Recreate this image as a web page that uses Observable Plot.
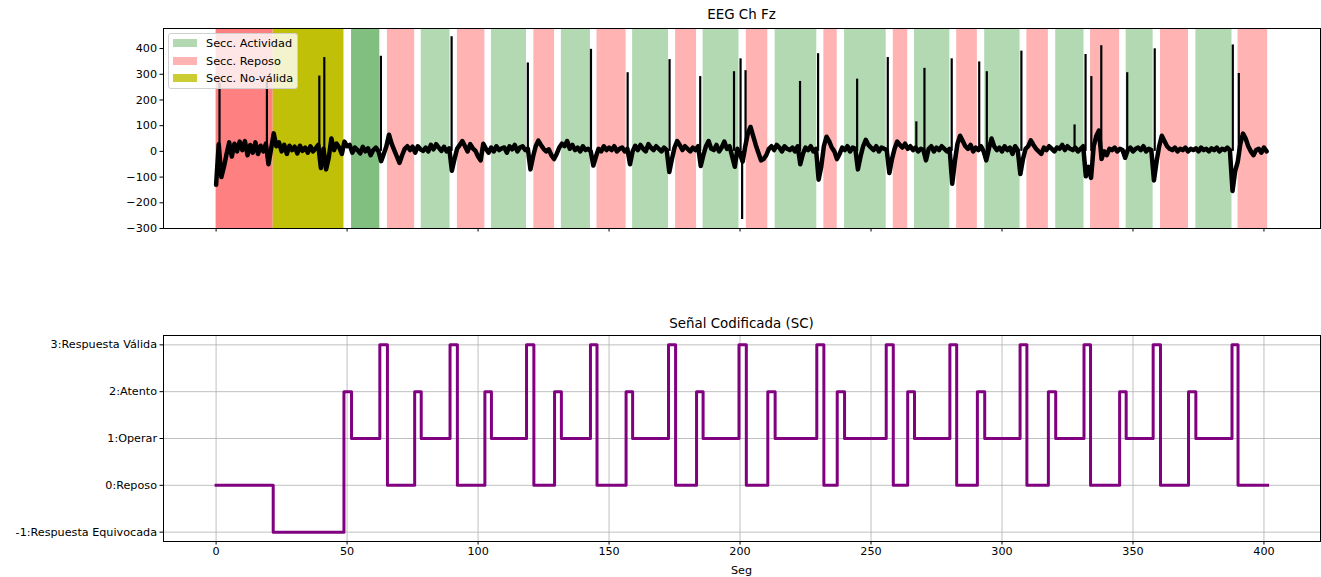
<!DOCTYPE html>
<html>
<head>
<meta charset="utf-8">
<script src="https://cdn.jsdelivr.net/npm/d3@7"></script>
<script src="https://cdn.jsdelivr.net/npm/@observablehq/plot@0.6"></script>
<style>
  body { margin: 0; background: #fff; font-family: "DejaVu Sans", sans-serif; }
  #wrap { position: relative; width: 1321px; height: 577px; overflow: hidden; }
  .abs { position: absolute; }
  .title { font-size: 13.4px; line-height: 16px; text-align: center; color: #000; }
  .legend { position: absolute; left: 168px; top: 33px; width: 128px; height: 54px;
            background: rgba(255,255,255,0.8); border: 1px solid #d0d0d0; border-radius: 3px;
            font-size: 11.3px; color: #000; }
  .legrow { position: absolute; left: 4px; height: 14px; line-height: 14px; white-space: nowrap; }
  .sw { display: inline-block; width: 24px; height: 8px; vertical-align: middle; margin-right: 9px; margin-top: -2px; }
</style>
</head>
<body>
<div id="wrap"></div>
<script>
// ---------------- DATA ----------------
// EEG channel Fz, background trace sampled every 1 s (t = index, seconds)
const eegValues = [
  -130, 28, -100, -60, -10, 35, -20, 30, 0, 38,
  5, 40, -15, 25, -5, 35, -10, 22, 0, 30,
  -50, 10, 70, 20, 35, 0, 25, -10, 22, 5,
  18, -8, 22, 2, 15, -5, 20, 0, 12, 25,
  -65, 10, -70, -25, 50, 5, 30, 15, -10, 38,
  20, 25, -5, 15, 5, -8, 18, 0, 12, -15,
  5, 15, 0, -38, -10, 20, 65, 30, 5, -20,
  -45, -15, 10, 20, 5, 18, -5, 20, 8, 2,
  15, 0, 25, 8, 28, 15, 2, 18, 0, 12,
  -75, -30, 10, 25, 40, 20, 0, 28, 12, 2,
  -20, -35, 30, 10, -5, 15, 0, 20, 5, 12,
  15, -5, 20, 8, 25, 0, 15, 20, 5, 10,
  -70, -20, 20, 42, 25, 10, 0, 8, -15, -30,
  -10, 15, 30, 20, 40, 10, 25, 5, 15, 0,
  20, 5, 10, 0, -55, -20, 10, 0, 20, 5,
  15, 5, 20, 0, 10, 15, 0, 10, -50, 0,
  22, 5, 25, 10, 0, 28, 15, 5, 20, 10,
  0, 15, 5, -80, -30, 15, 40, 25, 5, 20,
  10, 0, 15, 5, 20, -57, -15, 20, 40, 10,
  5, 25, 0, 15, 38, 10, 20, -20, -60, 10,
  -10, -40, 20, 70, 95, 60, 25, -5, -35, -30,
  -15, 10, 20, 5, 25, 15, 0, 20, 10, 5,
  15, 0, 20, -50, -10, 15, 5, 20, 0, 10,
  -110, -60, 20, 57, 40, 15, 0, -30, -10, 15,
  5, 20, 0, 15, 10, -70, -20, 20, 45, 25,
  15, 5, 20, 0, 15, 10, 5, -84, -30, 10,
  38, 25, 15, 30, 10, 20, 5, 15, 0, 10,
  5, -35, 10, 20, 0, 15, 5, 20, 10, 0,
  10, -126, -40, 30, 61, 40, 20, 10, 25, 0,
  15, 5, 20, 0, -35, 10, 50, 20, 5, 15,
  0, 20, 5, 15, -10, 20, 5, -88, -30, 10,
  20, 43, 25, 10, 0, -10, 15, 5, 20, 10,
  0, 15, 10, 25, 5, 20, 10, 5, 15, 0,
  10, 20, -97, -60, -103, 20, 60, 81, -30, 0,
  -15, 10, 5, 15, 0, 10, 5, -25, 5, 15,
  0, 10, 15, 5, 20, 0, 10, 5, -113, -40,
  20, 61, 40, 20, 10, 5, 15, 0, 10, 5,
  15, 0, 10, 5, 12, 0, 15, 5, 10, 0,
  12, 5, 15, 0, 10, 5, 15, 5, -154, -77,
  -40, 30, 69, 50, 20, 0, -15, 5, 10, -5,
  15, 0
];
// Sharp transients (spikes) on the EEG trace
const spikeTimes = [1.3, 19.4, 39.4, 41.3, 62.9, 89.9, 119.0, 143.1, 157.1, 173.1, 184.8, 197.7,
  200.2, 200.8, 202.1, 222.9, 229.8, 244.7, 256.4, 267.3, 270.4, 280.8, 291.3, 294.2, 307.4,
  327.7, 331.9, 334.1, 337.9, 347.8, 358.3, 388.1, 390.4];
const spikePeaks = [265, 268, 293, 365, 370, 446, 344, 397, 306, 357, 291, 310,
  360, -265, 314, 272, 380, 281, 365, 115, 323, 360, 348, 310, 390,
  103, 377, 291, 411, 306, 399, 414, 303];

// Coded signal (SC): change times (s) and level held from that time
const scTimes = [0, 21.8, 48.8, 51.7, 62.5, 65.4, 75.8, 78.3, 89.3, 92.1, 102.6, 105.1, 118.5, 121.3,
  129.2, 131.8, 142.9, 145.4, 156.5, 159.0, 172.7, 175.4, 183.4, 185.9, 199.6, 202.4, 210.6, 213.4,
  229.3, 232.0, 237.1, 239.9, 255.8, 258.5, 264.0, 266.6, 280.1, 282.7, 290.6, 293.4, 306.9, 309.5,
  317.7, 320.5, 331.3, 333.8, 344.9, 347.4, 357.7, 360.5, 371.2, 374.0, 387.8, 390.1, 401.4];
const scLevels = [0, -1, 2, 1, 3, 0, 2, 1, 3, 0, 2, 1, 3, 0,
  2, 1, 3, 0, 2, 1, 3, 0, 2, 1, 3, 0, 2, 1,
  3, 0, 2, 1, 3, 0, 2, 1, 3, 0, 2, 1, 3, 0,
  2, 1, 3, 0, 2, 1, 3, 0, 2, 1, 3, 0, 0];
const scTickValues = [-1, 0, 1, 2, 3];
const scTickLabels = ["-1:Respuesta Equivocada", "0:Reposo", "1:Operar", "2:Atento", "3:Respuesta Válida"];

const eegTicks = [-300, -200, -100, 0, 100, 200, 300, 400];
const timeTicks = [0, 50, 100, 150, 200, 250, 300, 350, 400];

const sectionKinds = ["Secc. Actividad", "Secc. Reposo", "Secc. No-válida"];
const sectionLevel = [1, 0, -1];
const sectionColors = ["#b3d9b3", "#ffb3b3", "#c0c008"];
const sectionColorsFirst = ["#80bf80", "#ff8080", "#c0c008"];
const legendSwatch = ["#b3d9b3", "#ffb3b3", "#cccc33"];

// ---------------- BUILD TABLES ----------------
const eeg = eegValues.map((v, i) => ({t: i, v}));
const spikes = spikeTimes.map((t, i) => ({t, p: spikePeaks[i]}));
const sc = scTimes.map((t, i) => ({t, v: scLevels[i]}));
const sections = [];
const seen = new Set();
for (let i = 0; i < scTimes.length - 1; i++) {
  const k = sectionLevel.indexOf(scLevels[i]);
  if (k < 0) continue;
  const first = !seen.has(k); seen.add(k);
  sections.push({x1: scTimes[i], x2: scTimes[i + 1], color: first ? sectionColorsFirst[k] : sectionColors[k]});
}

const W = 1321;
const xDomain = [-20.08, 421.58];
const font = {fontFamily: "DejaVu Sans, sans-serif", fontSize: "11.2px", color: "#000", background: "transparent", overflow: "visible"};

const topChart = Plot.plot({
  width: W, height: 250,
  marginLeft: 163, marginRight: 1, marginTop: 28, marginBottom: 22,
  style: font,
  x: {domain: xDomain},
  y: {domain: [-300, 478]},
  marks: [
    Plot.rect(sections, {x1: "x1", x2: "x2", fill: "color"}),
    Plot.line(eeg, {x: "t", y: "v", stroke: "black", strokeWidth: 4.5, clip: true}),
    Plot.ruleX(spikes, {x: "t", y1: 0, y2: "p", stroke: "black", strokeWidth: 2.2}),
    Plot.axisY({ticks: eegTicks, tickSize: 3.5, tickPadding: 3, label: null}),
    Plot.axisX({ticks: timeTicks, tickSize: 3.5, tickFormat: () => "", label: null}),
    Plot.frame({stroke: "#000", strokeWidth: 1})
  ]
});

const bottomChart = Plot.plot({
  width: W, height: 327,
  marginLeft: 163, marginRight: 1, marginTop: 85, marginBottom: 36,
  style: font,
  x: {domain: xDomain},
  y: {domain: [-1.2, 3.2]},
  marks: [
    Plot.gridX({ticks: timeTicks, stroke: "#b0b0b0", strokeOpacity: 1, strokeWidth: 0.8}),
    Plot.gridY({ticks: scTickValues, stroke: "#b0b0b0", strokeOpacity: 1, strokeWidth: 0.8}),
    Plot.line(sc, {x: "t", y: "v", curve: "step-after", stroke: "#800080", strokeWidth: 3, strokeLinecap: "square"}),
    Plot.axisY({ticks: scTickValues, tickSize: 3.5, tickPadding: 3, label: null,
      tickFormat: d => scTickLabels[scTickValues.indexOf(d)]}),
    Plot.axisX({ticks: timeTicks, tickSize: 3.5, tickPadding: 2, label: null}),
    Plot.frame({stroke: "#000", strokeWidth: 1})
  ]
});

const wrap = document.getElementById("wrap");
topChart.style.position = "absolute"; topChart.style.left = "0px"; topChart.style.top = "0px";
bottomChart.style.position = "absolute"; bottomChart.style.left = "0px"; bottomChart.style.top = "250px";
wrap.appendChild(topChart);
wrap.appendChild(bottomChart);

function addText(txt, cls, left, topPx, width, extra) {
  const d = document.createElement("div");
  d.className = "abs " + cls;
  d.textContent = txt;
  d.style.left = left + "px"; d.style.top = topPx + "px"; d.style.width = width + "px";
  if (extra) Object.assign(d.style, extra);
  wrap.appendChild(d);
}
addText("EEG Ch Fz", "title", 163, 7, 1157);
addText("Señal Codificada (SC)", "title", 163, 316, 1157);
addText("Seg", "title", 163, 564, 1157, {fontSize: "11.2px", lineHeight: "14px"});

// legend
const leg = document.createElement("div");
leg.className = "legend";
sectionKinds.forEach((name, i) => {
  const r = document.createElement("div");
  r.className = "legrow";
  r.style.top = (3 + i * 17.5) + "px";
  const sw = document.createElement("span");
  sw.className = "sw"; sw.style.background = legendSwatch[i];
  r.appendChild(sw);
  r.appendChild(document.createTextNode(name));
  leg.appendChild(r);
});
wrap.appendChild(leg);
</script>
</body>
</html>
